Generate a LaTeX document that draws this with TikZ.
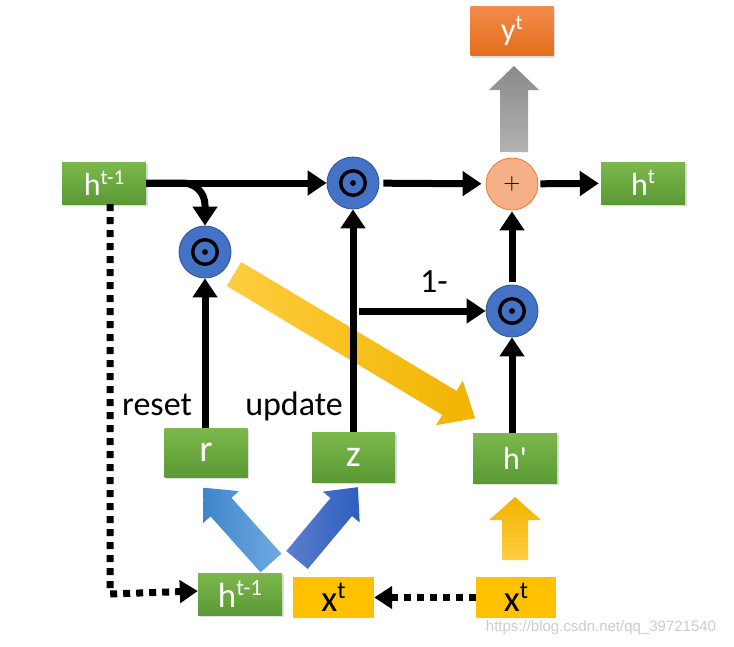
\documentclass[tikz,border=0pt]{standalone}
\usepackage{fontspec}
\setmainfont{Carlito}
\newfontfamily\wmfont{Liberation Sans}
\usetikzlibrary{arrows.meta,shadows}
\definecolor{gtop}{RGB}{124,184,76}
\definecolor{gbot}{RGB}{90,153,52}
\definecolor{otop}{RGB}{241,140,76}
\definecolor{obot}{RGB}{228,110,28}
\definecolor{xyel}{RGB}{255,192,0}
\definecolor{odfill}{RGB}{68,114,196}
\definecolor{odedge}{RGB}{47,82,143}
\definecolor{plfill}{RGB}{245,175,135}
\definecolor{pledge}{RGB}{237,125,49}
\definecolor{grayA}{RGB}{138,138,138}
\definecolor{grayB}{RGB}{178,178,178}
\definecolor{yelA}{RGB}{240,180,0}
\definecolor{yelB}{RGB}{255,205,64}
\definecolor{blueA}{RGB}{61,134,204}
\definecolor{blueB}{RGB}{112,170,224}
\definecolor{blueC}{RGB}{45,95,190}
\definecolor{blueD}{RGB}{92,126,205}
\newcommand\fatarrow[7]{%
  \begin{scope}[shift={#1}, rotate=#2]
    \path[#7] (0,-#4/2) -- ({#3-#6},-#4/2) -- ({#3-#6},-#5/2) -- (#3,0)
      -- ({#3-#6},#5/2) -- ({#3-#6},#4/2) -- (0,#4/2) -- cycle;
  \end{scope}}
\newcommand\sups[1]{\raisebox{0.36em}{\scalebox{0.66}{#1}}}
\tikzset{
  gbox/.style={rectangle, top color=gtop, bottom color=gbot, text=white,
    inner sep=0pt, font=\fontsize{32}{34}\selectfont,
    drop shadow={shadow xshift=1.5pt, shadow yshift=-2pt, opacity=0.25}},
  obox/.style={rectangle, top color=otop, bottom color=obot, text=white,
    inner sep=0pt, font=\fontsize{32}{34}\selectfont,
    drop shadow={shadow xshift=1.5pt, shadow yshift=-2pt, opacity=0.25}},
  ybox/.style={rectangle, fill=xyel, text=black, inner sep=0pt,
    font=\fontsize{37}{38}\selectfont},
  odot/.style={circle, fill=odfill, draw=odedge, line width=0.8pt,
    minimum size=52pt, inner sep=0pt,
    path picture={\draw[black, line width=3.4pt] (path picture bounding box.center) circle (12.3pt);
      \fill[black] (path picture bounding box.center) circle (2.9pt);}},
  plusnode/.style={circle, fill=plfill, draw=pledge, line width=0.8pt,
    minimum size=52pt, inner sep=0pt},
  arr/.style={line width=7pt, -{Triangle[length=19pt,width=24pt]}},
  dotline/.style={line width=7pt, dash pattern=on 7pt off 6pt,
    -{Triangle[length=18pt,width=22pt]}},
  lbl/.style={font=\fontsize{34}{36}\selectfont, inner sep=0pt}
}
\begin{document}
\begin{tikzpicture}[x=1pt,y=-1pt]
\useasboundingbox[fill=white] (0,0) rectangle (734,646);

% boxes
\node[gbox, minimum width=84pt, minimum height=42pt] (hA) at (104,183) {h\sups{t-1}};
\node[obox, minimum width=83pt, minimum height=49pt] (yT) at (512,31) {y\sups{t}};
\node[gbox, minimum width=84pt, minimum height=42pt] (hT) at (643,183) {h\sups{t}};
\node[gbox, minimum width=83pt, minimum height=49pt, font=\fontsize{38}{40}\selectfont] (r) at (206,452.5) {r};
\node[gbox, minimum width=83pt, minimum height=50pt, font=\fontsize{38}{40}\selectfont] (z) at (353.5,457) {z};
\node[gbox, minimum width=84pt, minimum height=50pt] (hp) at (515,458) {h\textquotesingle};
\node[gbox, minimum width=84pt, minimum height=42pt, font=\fontsize{35}{36}\selectfont] (hB) at (240,594) {h\sups{t-1}};
\node[ybox, minimum width=81pt, minimum height=41pt] (xM) at (333.5,597.5) {x\sups{t}};
\node[ybox, minimum width=80pt, minimum height=41pt] (xR) at (516,597.5) {x\sups{t}};

% operator circles
\node[odot] (odT) at (353,183) {};
\node[plusnode] (plus) at (512,184) {\scalebox{2.2}{$+$}};
\node[odot] (odL) at (205,252) {};
\node[odot] (odR) at (512,311) {};

% fat arrows
\shade[top color=grayA, bottom color=grayB] (500,152) -- (500,90) -- (489,90) -- (514,66)
  -- (539,90) -- (528,90) -- (528,152) -- cycle;
\shade[top color=yelA, bottom color=yelB] (502,560) -- (502,520) -- (489,520) -- (515,497)
  -- (541,520) -- (528,520) -- (528,560) -- cycle;
\fatarrow{(271,563)}{131.8}{101}{28}{48}{26}{left color=blueA, right color=blueB}
\fatarrow{(297,560)}{50.1}{95}{28}{48}{26}{left color=blueD, right color=blueC}
\fatarrow{(234,274)}{-30.9}{281}{28}{52}{30}{left color=yelB, right color=yelA}

% connectors
\draw[arr] (hA.east) -- (odT.west);
\draw[arr, rounded corners=22pt] (hA.east) -| (odL.north);
\draw[arr, shorten <=4pt, shorten >=4pt] (odT) -- (plus);
\draw[arr, shorten <=2pt, shorten >=2pt] (plus) -- (hT);
\draw[arr, shorten <=3pt, shorten >=1pt] (odR) -- (plus);
\draw[arr] (hp.north -| odR) -- (odR);
\draw[arr] (z.north -| odT) -- (odT);
\draw[arr] (r.north -| odL) -- (odL);
\coordinate (br) at ([xshift=6pt]odT.center |- odR.center);
\draw[arr] (br) -- (odR.west);
\draw[dotline] ([xshift=6pt]hA.south) -- ([xshift=6pt]hA.south |- hB.west) -- ([yshift=3pt]hB.west);
\draw[dotline] ([yshift=0pt]xR.west) -- (xM.east);

% labels
\node[lbl, anchor=base] (lone) at (434,292) {1-};
\node[lbl, anchor=base] (lreset) at (157,415) {reset};
\node[lbl, anchor=base] (lupdate) at (294,415) {update};
\node[font=\wmfont\fontsize{15}{16}\selectfont, text=black!20, inner sep=0pt] (wm) at (601,628) {https://blog.csdn.net/qq\_39721540};
\end{tikzpicture}
\end{document}
